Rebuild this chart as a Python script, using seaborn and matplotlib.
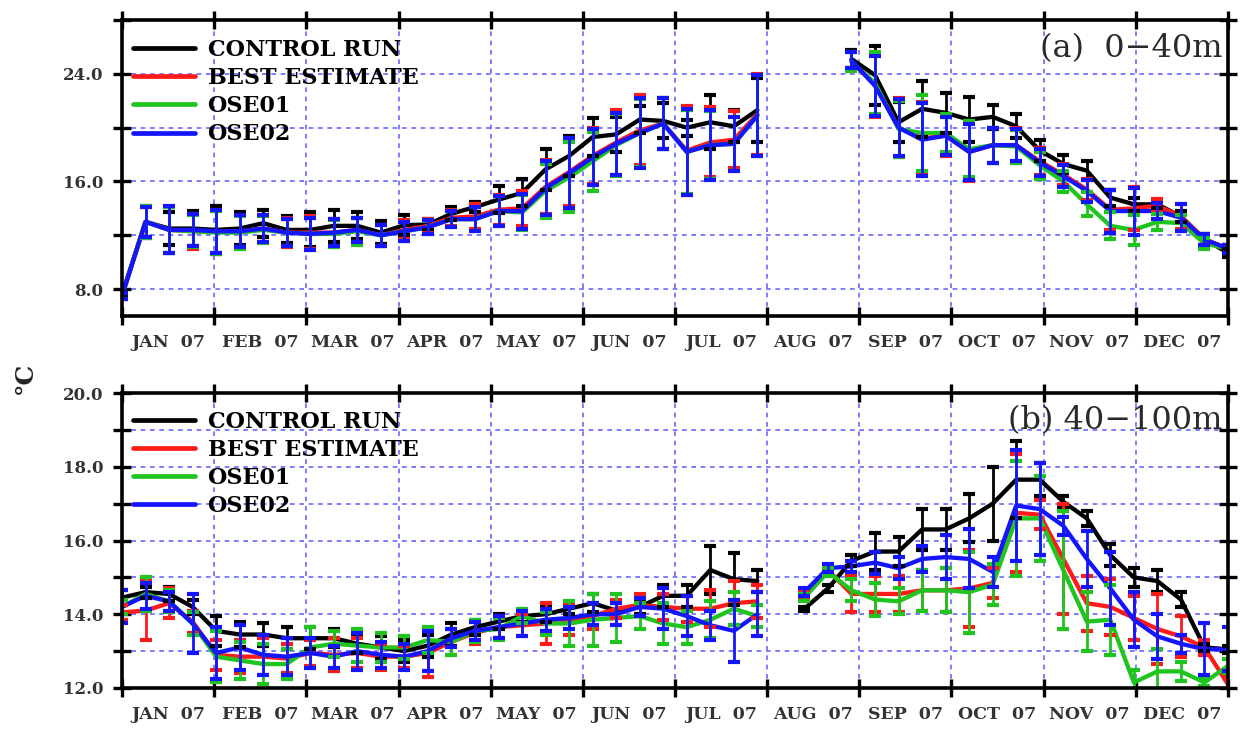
import numpy as np
import pandas as pd
import matplotlib
matplotlib.use("Agg")
import matplotlib.pyplot as plt
from matplotlib.lines import Line2D
from matplotlib.ticker import FixedLocator, FormatStrFormatter, NullFormatter
import seaborn as sns

nan = np.nan

# 48 samples spread over the year, time measured in months from 1 January
t = np.linspace(0.0, 12.0, 48)

months = ["JAN", "FEB", "MAR", "APR", "MAY", "JUN",
          "JUL", "AUG", "SEP", "OCT", "NOV", "DEC"]
year_tag = "07"

runs = ["CONTROL RUN", "BEST ESTIMATE", "OSE01", "OSE02"]
colors = ["#000000", "#ff1a1a", "#1fc41f", "#1414ff"]

# ---- layer (a): 0-40 m mean temperature (deg C) ----
a_ctrl = [7.6, 13.0, 12.5, 12.5, 12.4, 12.5, 12.9, 12.4,
          12.4, 12.7, 12.7, 12.2, 12.75, 12.8, 13.6, 14.1,
          14.65, 15.15, 16.9, 17.9, 19.3, 19.5, 20.6, 20.5,
          20.0, 20.4, 20.1, 21.3, nan, nan, nan, 25.1,
          23.9, 20.4, 21.4, 21.1, 20.6, 20.8, 20.1, 18.3,
          17.3, 16.8, 14.8, 14.3, 14.3, 13.4, 11.7, 10.7]
a_best = [7.5, 13.0, 12.4, 12.3, 12.3, 12.3, 12.5, 12.2,
          12.2, 12.2, 12.4, 12.0, 12.4, 12.7, 13.3, 13.4,
          13.9, 14.0, 15.6, 16.7, 17.9, 18.9, 19.8, 20.3,
          18.3, 18.9, 19.1, 21.0, nan, nan, nan, 24.9,
          23.2, 20.0, 19.2, 19.4, 18.2, 18.7, 18.7, 17.5,
          16.5, 15.4, 13.9, 14.0, 14.2, 13.4, 11.7, 11.0]
a_ose1 = [7.5, 13.0, 12.4, 12.3, 12.2, 12.2, 12.4, 12.2,
          12.1, 12.1, 12.3, 12.0, 12.3, 12.6, 13.2, 13.2,
          13.8, 13.7, 15.3, 16.3, 17.5, 18.7, 19.6, 20.3,
          18.2, 18.7, 18.8, 20.9, nan, nan, nan, 24.9,
          23.3, 19.9, 19.6, 19.6, 18.4, 18.7, 18.6, 17.2,
          16.0, 14.3, 12.7, 12.4, 13.0, 12.9, 11.4, 11.0]
a_ose2 = [7.5, 13.0, 12.4, 12.4, 12.3, 12.3, 12.5, 12.2,
          12.1, 12.2, 12.4, 12.0, 12.3, 12.6, 13.2, 13.2,
          13.8, 13.8, 15.5, 16.6, 17.8, 18.8, 19.6, 20.3,
          18.2, 18.7, 18.8, 20.9, nan, nan, nan, 25.0,
          23.1, 20.0, 19.1, 19.4, 18.2, 18.7, 18.7, 17.4,
          16.4, 15.3, 13.8, 13.8, 13.8, 13.3, 11.7, 11.0]

a_ctrl_err = [0.2, 1.2, 1.2, 1.3, 1.8, 1.25, 1.0, 1.0,
              1.3, 1.2, 1.0, 0.85, 0.75, 0.4, 0.5, 0.4,
              1.0, 1.0, 1.5, 1.5, 1.4, 1.3, 1.0, 1.3,
              0.6, 2.0, 1.2, 2.4, nan, nan, nan, 0.7,
              2.2, 1.5, 2.1, 1.5, 1.7, 0.9, 0.9, 0.8,
              0.7, 0.7, 0.6, 0.5, 0.3, 0.4, 0.4, 0.3]
a_best_err = [0.2, 1.1, 1.7, 1.3, 1.6, 1.2, 1.0, 1.1,
              1.2, 1.0, 0.9, 0.8, 0.7, 0.5, 0.6, 0.9,
              1.1, 1.3, 2.0, 2.5, 2.1, 2.4, 2.6, 1.9,
              3.3, 2.6, 2.1, 3.0, nan, nan, nan, 0.7,
              2.4, 2.2, 2.7, 1.5, 2.2, 1.3, 1.3, 1.0,
              0.8, 0.8, 1.5, 1.6, 0.5, 0.9, 0.4, 0.3]
a_ose1_err = [0.2, 1.2, 1.7, 1.2, 1.6, 1.2, 1.0, 1.0,
              1.2, 1.0, 1.0, 0.8, 0.7, 0.5, 0.6, 0.9,
              1.1, 1.3, 2.0, 2.6, 2.2, 2.3, 2.5, 1.9,
              3.1, 2.5, 2.0, 3.0, nan, nan, nan, 0.7,
              2.3, 2.1, 2.8, 1.4, 2.1, 1.3, 1.2, 1.0,
              0.8, 0.9, 1.0, 1.1, 0.6, 0.6, 0.4, 0.3]
a_ose2_err = [0.2, 1.1, 1.75, 1.2, 1.6, 1.2, 1.0, 1.0,
              1.2, 1.0, 0.9, 0.8, 0.7, 0.5, 0.6, 0.9,
              1.1, 1.3, 2.0, 2.6, 2.1, 2.3, 2.6, 1.9,
              3.2, 2.6, 2.0, 3.0, nan, nan, nan, 0.6,
              2.2, 2.1, 2.7, 1.4, 2.1, 1.3, 1.2, 1.0,
              0.8, 0.8, 1.6, 1.75, 0.6, 1.0, 0.4, 0.3]

# ---- layer (b): 40-100 m mean temperature (deg C) ----
b_ctrl = [14.45, 14.6, 14.55, 14.2, 13.55, 13.45, 13.45, 13.35,
          13.35, 13.35, 13.2, 13.1, 13.0, 13.15, 13.45, 13.65,
          13.8, 13.95, 14.0, 14.15, 14.3, 14.1, 14.2, 14.5,
          14.5, 15.2, 14.95, 14.9, nan, 14.15, 14.7, 15.45,
          15.7, 15.7, 16.3, 16.3, 16.6, 17.0, 17.65, 17.65,
          17.05, 16.6, 15.6, 15.0, 14.9, 14.4, 13.1, 13.05]
b_best = [14.05, 14.1, 14.3, 13.8, 12.9, 12.85, 12.85, 12.8,
          12.95, 12.9, 12.95, 12.85, 12.85, 12.95, 13.25, 13.5,
          13.65, 13.7, 13.75, 13.85, 13.95, 14.15, 14.25, 14.2,
          14.15, 14.15, 14.3, 14.35, nan, 14.55, 15.2, 14.55,
          14.55, 14.55, 14.65, 14.65, 14.7, 14.85, 16.75, 16.7,
          15.5, 14.3, 14.2, 13.9, 13.6, 13.4, 13.1, 12.1]
b_ose1 = [14.2, 14.55, 14.35, 13.75, 12.85, 12.75, 12.65, 12.65,
          13.1, 13.2, 13.15, 13.1, 13.1, 13.3, 13.25, 13.55,
          13.6, 13.95, 13.75, 13.75, 13.85, 13.9, 13.95, 13.75,
          13.65, 13.85, 14.15, 13.95, nan, 14.45, 15.15, 14.65,
          14.4, 14.35, 14.65, 14.65, 14.6, 14.8, 16.6, 16.6,
          15.2, 13.8, 13.85, 12.15, 12.45, 12.45, 12.15, 12.6]
b_ose2 = [14.2, 14.5, 14.35, 13.75, 12.95, 13.1, 12.9, 12.85,
          12.95, 12.85, 13.0, 12.9, 12.85, 13.0, 13.35, 13.55,
          13.65, 13.75, 13.85, 13.9, 14.0, 14.0, 14.2, 14.15,
          13.95, 13.7, 13.55, 14.0, nan, 14.6, 15.25, 15.3,
          15.4, 15.25, 15.5, 15.55, 15.5, 15.15, 16.95, 16.85,
          16.4, 15.5, 14.7, 13.85, 13.4, 13.2, 13.05, 13.05]

b_ctrl_err = [0.2, 0.15, 0.2, 0.2, 0.4, 0.35, 0.3, 0.3,
              0.3, 0.25, 0.25, 0.3, 0.3, 0.3, 0.3, 0.2,
              0.2, 0.15, 0.2, 0.15, 0.25, 0.2, 0.2, 0.3,
              0.3, 0.65, 0.7, 0.3, nan, 0.05, 0.1, 0.15,
              0.5, 0.4, 0.55, 0.55, 0.65, 1.0, 1.05, 0.45,
              0.15, 0.2, 0.3, 0.25, 0.3, 0.2, 0.1, 0.1]
b_best_err = [0.2, 0.8, 0.4, 0.3, 0.4, 0.45, 0.5, 0.4,
              0.35, 0.45, 0.4, 0.35, 0.3, 0.65, 0.35, 0.3,
              0.3, 0.3, 0.55, 0.4, 0.35, 0.25, 0.3, 0.35,
              0.35, 0.5, 0.6, 0.45, nan, 0.1, 0.1, 0.5,
              0.5, 0.5, 0.55, 0.6, 1.05, 0.4, 1.6, 0.4,
              1.5, 0.75, 0.75, 0.6, 0.95, 0.55, 0.2, 0.2]
b_ose1_err = [0.2, 0.45, 0.3, 0.3, 0.7, 0.5, 0.55, 0.4,
              0.55, 0.35, 0.45, 0.4, 0.3, 0.35, 0.35, 0.3,
              0.3, 0.2, 0.3, 0.6, 0.7, 0.65, 0.35, 0.55,
              0.45, 0.5, 0.45, 0.3, nan, 0.1, 0.1, 0.3,
              0.45, 0.35, 0.55, 0.6, 1.1, 0.55, 1.55, 1.15,
              1.6, 0.8, 0.95, 0.35, 0.6, 0.25, 0.1, 0.2]
b_ose2_err = [0.45, 0.35, 0.25, 0.8, 0.7, 0.6, 0.55, 0.5,
              0.4, 0.3, 0.5, 0.35, 0.35, 0.55, 0.25, 0.25,
              0.3, 0.35, 0.3, 0.3, 0.3, 0.3, 0.25, 0.55,
              0.55, 0.4, 0.85, 0.6, nan, 0.1, 0.1, 0.15,
              0.3, 0.3, 0.35, 0.6, 0.8, 0.4, 1.5, 1.25,
              0.25, 0.75, 1.0, 0.75, 0.6, 0.25, 0.7, 0.6]

# ---------------------------------------------------------------
sns.set_style("white")
plt.rcParams["font.family"] = ["DejaVu Serif", "DejaVu Sans"]
plt.rcParams["axes.linewidth"] = 2.6

W, H = 1248, 731
fig = plt.figure(figsize=(W / 100, H / 100), dpi=100)
ax_a = fig.add_axes([122 / W, 1 - 316 / H, 1106 / W, 296 / H])
ax_b = fig.add_axes([122 / W, 1 - 688 / H, 1106 / W, 295 / H])

GRID = dict(color="#7070ff", linestyle=(0, (2.4, 2.4)), linewidth=1.4, alpha=0.9)
TICKCOL = "#333333"


def long_frame(values, errors):
    frames = []
    for name, v, e in zip(runs, values, errors):
        v = np.asarray(v, dtype=float)
        seg = np.cumsum(np.isnan(v))  # a new line segment after each gap
        frames.append(pd.DataFrame({"t": t, "temp": v, "err": e,
                                    "run": name, "seg": seg}))
    return pd.concat(frames, ignore_index=True).dropna(subset=["temp"])


def draw_panel(ax, values, errors, ylim, ymajor, yminor, tag, tag_y, leg_y):
    df = long_frame(values, errors)

    sns.lineplot(data=df, x="t", y="temp", hue="run", units="seg",
                 estimator=None, hue_order=runs, palette=colors,
                 linewidth=3.1, legend=False, sort=False, ax=ax, zorder=3)
    for name, c in zip(runs, colors):
        d = df[df["run"] == name]
        ax.errorbar(d["t"], d["temp"], yerr=d["err"], fmt="none",
                    ecolor=c, elinewidth=2.0, capsize=4.3, capthick=3.0,
                    zorder=4, clip_on=True)

    ax.set_xlim(0, 12)
    ax.set_ylim(*ylim)
    ax.set_xlabel("")
    ax.set_ylabel("")

    # month boundaries carry ticks/grid, month centres carry the labels
    ax.xaxis.set_major_locator(FixedLocator(np.arange(0, 13)))
    ax.xaxis.set_major_formatter(NullFormatter())
    ax.xaxis.set_minor_locator(FixedLocator(np.arange(12) + 0.5))
    ax.set_xticklabels([f"{m}  {year_tag}" for m in months], minor=True)

    ax.yaxis.set_major_locator(FixedLocator(ymajor))
    ax.yaxis.set_minor_locator(FixedLocator(yminor))
    ax.yaxis.set_major_formatter(FormatStrFormatter("%.1f"))

    ax.xaxis.grid(True, which="major", **GRID)
    ax.yaxis.grid(True, which="both", **GRID)
    ax.set_axisbelow(True)

    ax.tick_params(which="major", direction="inout", length=13, width=2.4,
                   color="black", top=True, right=True, bottom=True, left=True)
    ax.tick_params(axis="y", which="minor", direction="inout", length=13,
                   width=2.4, color="black", left=True, right=True)
    ax.tick_params(axis="x", which="minor", length=0, pad=13,
                   labelsize=12.5, labelcolor=TICKCOL)
    ax.tick_params(axis="y", which="major", pad=7, labelsize=12,
                   labelcolor=TICKCOL)
    for lab in ax.get_xticklabels(minor=True) + ax.get_yticklabels():
        lab.set_fontweight("bold")

    for s in ax.spines.values():
        s.set_visible(True)
        s.set_color("black")
        s.set_linewidth(2.6)
        s.set_zorder(6)

    handles = [Line2D([], [], color=c, lw=3.4) for c in colors]
    leg = ax.legend(handles, runs, loc="upper left",
                    bbox_to_anchor=(0.004, leg_y),
                    frameon=False, handlelength=2.8, handletextpad=0.55,
                    labelspacing=0.28, borderaxespad=0.0, borderpad=0.3,
                    prop=dict(family="DejaVu Serif", weight="bold", size=16))
    for txt in leg.get_texts():
        txt.set_color("black")

    ax.text(0.995, tag_y, tag, transform=ax.transAxes, ha="right",
            va="center", fontsize=23, family="DejaVu Serif",
            color="#2a2a2a")


draw_panel(ax_a, [a_ctrl, a_best, a_ose1, a_ose2],
           [a_ctrl_err, a_best_err, a_ose1_err, a_ose2_err],
           (6, 28), [8, 16, 24], [12, 20, 28], "(a)  0\u221240m", 0.905, 0.959)
draw_panel(ax_b, [b_ctrl, b_best, b_ose1, b_ose2],
           [b_ctrl_err, b_best_err, b_ose1_err, b_ose2_err],
           (12, 20), [12, 14, 16, 18, 20], [13, 15, 17, 19],
           "(b) 40\u2212100m", 0.908, 0.963)

fig.text(25 / W, 1 - 378 / H, "\u00b0C", rotation=90, ha="center",
         va="center", fontsize=18, fontweight="bold", color="#222222")

fig.savefig("out.png", dpi=100)
